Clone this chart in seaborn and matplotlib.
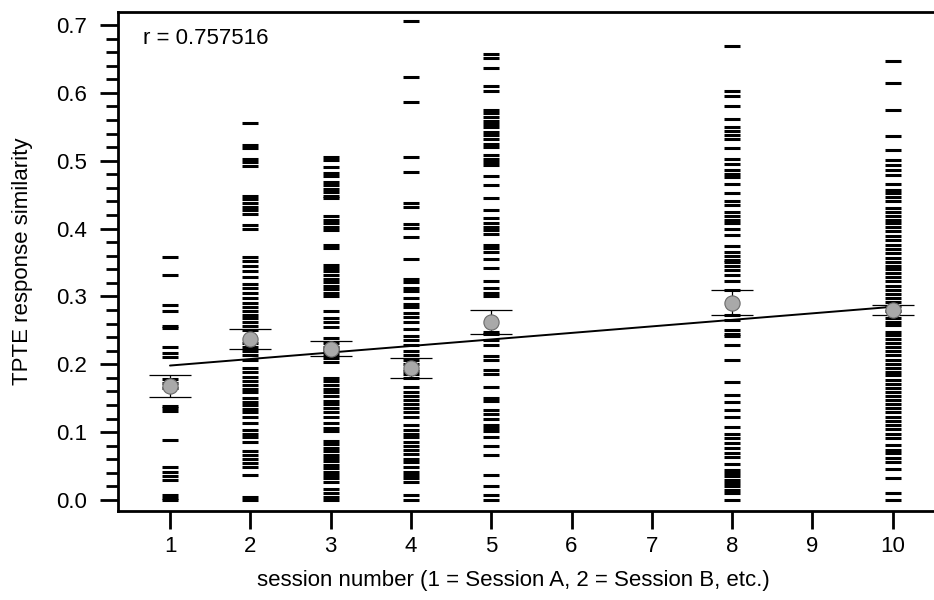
import numpy as np
import pandas as pd
import matplotlib
matplotlib.use("Agg")
import matplotlib.pyplot as plt
import seaborn as sns
from matplotlib.ticker import MultipleLocator

# similarity values per session
s1 = [0.358, 0.332, 0.287, 0.278, 0.257, 0.253, 0.225, 0.217, 0.211, 0.178, 0.172,
      0.165, 0.139, 0.135, 0.131, 0.088, 0.048, 0.042, 0.036, 0.030, 0.007, 0.003, 0.0]
s2 = [0.555, 0.523, 0.518, 0.503, 0.498, 0.492, 0.448, 0.444, 0.438, 0.432, 0.427,
      0.421, 0.405, 0.400, 0.358, 0.352, 0.345, 0.337, 0.329, 0.318, 0.312, 0.305,
      0.297, 0.291, 0.285, 0.279, 0.273, 0.268, 0.262, 0.257, 0.250, 0.232, 0.226,
      0.220, 0.213, 0.207, 0.194, 0.188, 0.182, 0.176, 0.170, 0.164, 0.159, 0.151,
      0.145, 0.140, 0.134, 0.130, 0.122, 0.114, 0.103, 0.097, 0.093, 0.085, 0.072,
      0.066, 0.060, 0.054, 0.048, 0.037, 0.005, 0.0]
s3 = [0.506, 0.501, 0.490, 0.482, 0.477, 0.469, 0.464, 0.459, 0.454, 0.448, 0.445,
      0.419, 0.413, 0.408, 0.403, 0.398, 0.376, 0.371, 0.347, 0.342, 0.337, 0.332,
      0.326, 0.321, 0.316, 0.311, 0.305, 0.300, 0.278, 0.268, 0.262, 0.255, 0.239,
      0.232, 0.226, 0.221, 0.215, 0.210, 0.204, 0.180, 0.175, 0.169, 0.164, 0.159,
      0.154, 0.146, 0.141, 0.135, 0.130, 0.122, 0.114, 0.106, 0.101, 0.087, 0.082,
      0.077, 0.072, 0.067, 0.062, 0.057, 0.052, 0.047, 0.042, 0.037, 0.032, 0.027,
      0.016, 0.011, 0.005, 0.0]
s4 = [0.706, 0.623, 0.587, 0.505, 0.484, 0.437, 0.432, 0.406, 0.401, 0.387, 0.355,
      0.326, 0.321, 0.313, 0.308, 0.297, 0.289, 0.284, 0.276, 0.270, 0.262, 0.252,
      0.241, 0.236, 0.228, 0.220, 0.213, 0.207, 0.200, 0.190, 0.185, 0.180, 0.167,
      0.159, 0.154, 0.148, 0.141, 0.135, 0.129, 0.122, 0.111, 0.103, 0.098, 0.093,
      0.086, 0.080, 0.073, 0.068, 0.061, 0.056, 0.048, 0.042, 0.037, 0.032, 0.027,
      0.008, 0.0]
s5 = [0.657, 0.652, 0.636, 0.610, 0.602, 0.575, 0.570, 0.565, 0.559, 0.554, 0.549,
      0.543, 0.538, 0.532, 0.525, 0.520, 0.509, 0.503, 0.498, 0.493, 0.477, 0.464,
      0.445, 0.427, 0.416, 0.408, 0.403, 0.398, 0.392, 0.376, 0.371, 0.366, 0.355,
      0.342, 0.323, 0.313, 0.305, 0.300, 0.248, 0.244, 0.236, 0.228, 0.212, 0.207,
      0.191, 0.186, 0.167, 0.151, 0.146, 0.133, 0.127, 0.119, 0.111, 0.106, 0.101,
      0.093, 0.080, 0.066, 0.037, 0.021, 0.008, 0.0]
s8 = [0.669, 0.602, 0.595, 0.581, 0.562, 0.550, 0.544, 0.538, 0.532, 0.518, 0.502,
      0.495, 0.486, 0.480, 0.476, 0.465, 0.452, 0.440, 0.434, 0.425, 0.418, 0.412,
      0.408, 0.399, 0.390, 0.375, 0.366, 0.360, 0.354, 0.351, 0.345, 0.339, 0.332,
      0.322, 0.309, 0.273, 0.265, 0.250, 0.245, 0.241, 0.229, 0.207, 0.174, 0.155,
      0.145, 0.133, 0.123, 0.108, 0.098, 0.092, 0.084, 0.077, 0.070, 0.064, 0.053,
      0.044, 0.040, 0.035, 0.030, 0.025, 0.020, 0.015, 0.010, 0.0]
s10 = [0.647, 0.615, 0.574, 0.537, 0.516, 0.501, 0.494, 0.486, 0.479, 0.466, 0.457,
       0.452, 0.447, 0.440, 0.430, 0.424, 0.418, 0.413, 0.408, 0.402, 0.396, 0.389,
       0.383, 0.376, 0.370, 0.364, 0.357, 0.351, 0.345, 0.340, 0.334, 0.328, 0.322,
       0.316, 0.310, 0.304, 0.298, 0.292, 0.286, 0.278, 0.268, 0.263, 0.258, 0.248,
       0.243, 0.237, 0.231, 0.225, 0.219, 0.213, 0.207, 0.201, 0.194, 0.189, 0.184,
       0.177, 0.171, 0.165, 0.159, 0.153, 0.147, 0.141, 0.135, 0.129, 0.123, 0.117,
       0.111, 0.104, 0.098, 0.092, 0.081, 0.074, 0.069, 0.062, 0.056, 0.046, 0.032,
       0.010, 0.0]

sessions = [1, 2, 3, 4, 5, 8, 10]
session_values = [s1, s2, s3, s4, s5, s8, s10]
# mean and standard error markers as drawn in the reference
means = [0.168, 0.237, 0.223, 0.195, 0.262, 0.291, 0.280]
sems = [0.016, 0.015, 0.011, 0.015, 0.018, 0.018, 0.008]
r_text = "r = 0.757516"
x_ticks = [1, 2, 3, 4, 5, 6, 7, 8, 9, 10]

df = pd.DataFrame({
    "session": np.repeat(sessions, [len(v) for v in session_values]),
    "similarity": np.concatenate(session_values),
})

sns.set_style("ticks")
plt.rcParams["font.family"] = ["Liberation Sans", "DejaVu Sans"]
plt.rcParams["text.color"] = "black"
plt.rcParams["axes.labelcolor"] = "black"
plt.rcParams["xtick.color"] = "black"
plt.rcParams["ytick.color"] = "black"

fig = plt.figure(figsize=(9.34, 6.0), dpi=100)
ax = fig.add_axes([0.1263, 0.1483, 0.8737, 0.8317])

# individual responses as short horizontal dashes
sns.scatterplot(data=df, x="session", y="similarity", marker="_", s=125,
                color="black", linewidth=2.2, ax=ax, zorder=2, legend=False)

# inverse-variance weighted linear fit through the session means
slope, intercept = np.polyfit(sessions, means, 1, w=1 / np.asarray(sems))
fit_x = np.array([min(sessions), max(sessions)])
sns.lineplot(x=fit_x, y=intercept + slope * fit_x, color="black", linewidth=1.4,
             ax=ax, zorder=3)

# means with error bars
ax.errorbar(sessions, means, yerr=sems, fmt="none", ecolor="black",
            elinewidth=0.9, capsize=15, capthick=0.9, zorder=4)
sns.scatterplot(x=sessions, y=means, marker="o", s=120, color="#a9a9a9",
                edgecolor="#6a6a6a", linewidth=0.8, ax=ax, zorder=5, legend=False)

ax.text(0.031, 0.946, r_text, transform=ax.transAxes, fontsize=16,
        va="center", ha="left", color="black")

ax.set_xlim(0.352, 10.514)
ax.set_ylim(-0.0162, 0.7191)
ax.set_xticks(x_ticks)
ax.yaxis.set_major_locator(MultipleLocator(0.1))
ax.yaxis.set_minor_locator(MultipleLocator(0.02))
ax.set_yticklabels([f"{t:.1f}" for t in ax.get_yticks()])

ax.tick_params(axis="both", which="major", direction="out", length=13,
               width=2, labelsize=16, color="black", labelcolor="black")
ax.tick_params(axis="y", which="major", pad=9)
ax.tick_params(axis="x", which="major", pad=5)
ax.tick_params(axis="y", which="minor", direction="out", length=8.5, width=2,
               color="black")

for side in ["left", "bottom", "top"]:
    ax.spines[side].set_linewidth(2)
    ax.spines[side].set_color("black")
ax.spines["right"].set_visible(False)

ax.set_xlabel("session number (1 = Session A, 2 = Session B, etc.)", fontsize=16,
              color="black")
ax.set_ylabel("TPTE response similarity", fontsize=16, color="black")
ax.xaxis.set_label_coords(0.485, -0.118)
ax.yaxis.set_label_coords(-0.104, 0.5)

plt.savefig("out.png", dpi=100)
